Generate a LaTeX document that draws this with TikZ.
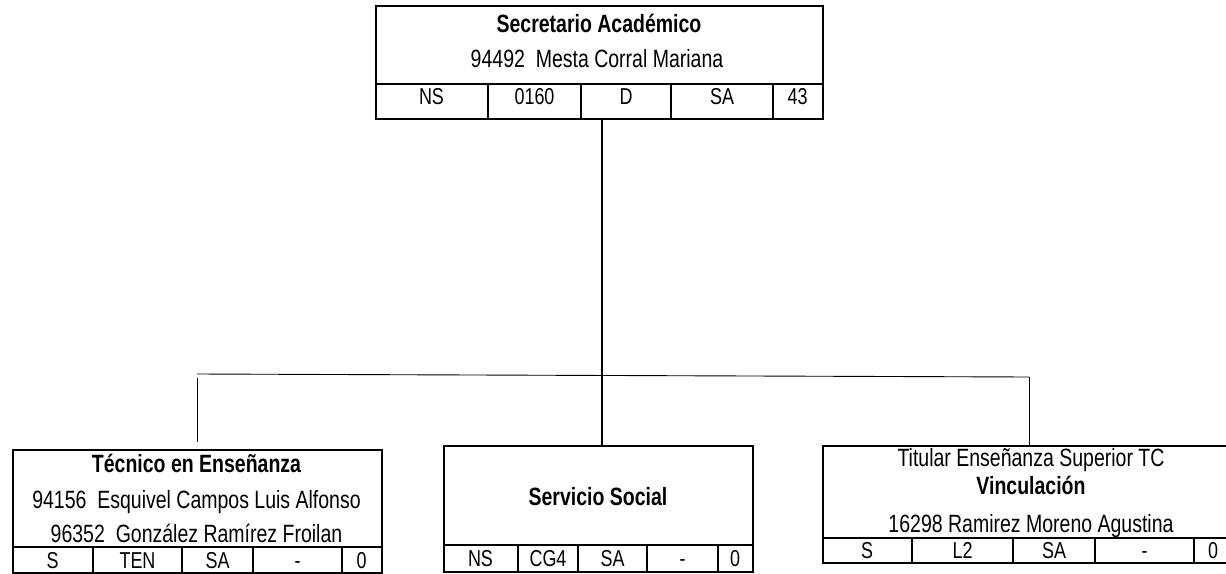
\documentclass[tikz,border=0pt]{standalone}
\usepackage{fontspec}
\setmainfont{Liberation Sans}
\newfontfamily\mainf{Liberation Sans}[FakeStretch=0.78]
\newfontfamily\cellf{Liberation Sans}[FakeStretch=0.78]
\begin{document}
\begin{tikzpicture}[x=1pt,y=-1pt,
  box/.style={draw, line width=1.6pt, inner sep=0pt, anchor=north west},
  inner/.style={line width=1.4pt},
  trunk/.style={line width=2pt},
  link/.style={line width=0.9pt},
  lbl/.style={inner sep=0pt, anchor=base, font=\mainf\fontsize{25}{29}\selectfont},
  ttl/.style={lbl, font=\mainf\fontsize{25}{29}\selectfont\bfseries},
  cell/.style={inner sep=0pt, anchor=base, font=\cellf\fontsize{23}{27}\selectfont}]
\useasboundingbox (0,0) rectangle (1226,573);
\clip (0,0) rectangle (1226,573);

% ---- top box
\node[box, minimum width=447pt, minimum height=113pt] (sa) at (375,5) {};
\draw[inner] (sa.west |- 0,84) -- (sa.east |- 0,84);
\foreach \x in {488,581,671,773} \draw[inner] (\x,84) -- (\x,118);
\node[ttl] (sa1) at (599,32) {Secretario Académico};
\node[lbl] (sa2) at (597,67) {94492\ \ Mesta Corral Mariana};
\node[cell] (sac1) at (431.5,104) {NS};
\node[cell] (sac2) at (534.5,104) {0160};
\node[cell] (sac3) at (626,104) {D};
\node[cell] (sac4) at (722,104) {SA};
\node[cell] (sac5) at (797.5,104) {43};

% ---- left box
\node[box, minimum width=369pt, minimum height=123pt] (lb) at (12,449) {};
\draw[inner] (lb.west |- 0,547) -- (lb.east |- 0,547);
\foreach \x in {93,182,253,342} \draw[inner] (\x,547) -- (\x,572);
\node[ttl] (lb1) at (196.5,472) {Técnico en Enseñanza};
\node[lbl] (lb2) at (196.5,508) {94156\ \ Esquivel Campos Luis Alfonso};
\node[lbl] (lb3) at (196.5,542) {96352\ \ González Ramírez Froilan};
\node[cell] (lbc1) at (52.5,568) {S};
\node[cell] (lbc2) at (137.5,568) {TEN};
\node[cell] (lbc3) at (217.5,568) {SA};
\node[cell] (lbc4) at (297.5,568) {-};
\node[cell] (lbc5) at (361.5,568) {0};

% ---- middle box
\node[box, minimum width=309pt, minimum height=126pt] (ss) at (443,445) {};
\draw[inner] (ss.west |- 0,545) -- (ss.east |- 0,545);
\foreach \x in {518,578,647,718} \draw[inner] (\x,545) -- (\x,571);
\node[ttl] (ss1) at (598,505) {Servicio Social};
\node[cell] (ssc1) at (480.5,566) {NS};
\node[cell] (ssc2) at (548,566) {CG4};
\node[cell] (ssc3) at (612.5,566) {SA};
\node[cell] (ssc4) at (682.5,566) {-};
\node[cell] (ssc5) at (735,566) {0};

% ---- right box
\node[box, minimum width=410pt, minimum height=117pt] (rb) at (822,445) {};
\draw[inner] (rb.west |- 0,538) -- (1226,538);
\foreach \x in {912,1013,1095,1194} \draw[inner] (\x,538) -- (\x,562);
\node[lbl] (rb1) at (1031,466) {Titular Enseñanza Superior TC};
\node[ttl] (rb2) at (1031,494) {Vinculación};
\node[lbl] (rb3) at (1031,532) {16298 Ramirez Moreno Agustina};
\node[cell] (rbc1) at (867,558) {S};
\node[cell] (rbc2) at (962.5,558) {L2};
\node[cell] (rbc3) at (1054,558) {SA};
\node[cell] (rbc4) at (1144.5,558) {-};
\node[cell] (rbc5) at (1213,558) {0};

% ---- connectors
\coordinate (barL) at (197,374);
\coordinate (barR) at (1029,377);
\draw[trunk] ([xshift=3pt]sa.south) -- ([xshift=3pt]sa.south |- ss.north);
\draw[link] (barL) -- (barR);
\draw[link, shorten <=4pt, shorten >=7pt] (barL) -- (barL |- lb.north);
\draw[link] (barR) -- (barR |- rb.north);
\end{tikzpicture}
\end{document}
